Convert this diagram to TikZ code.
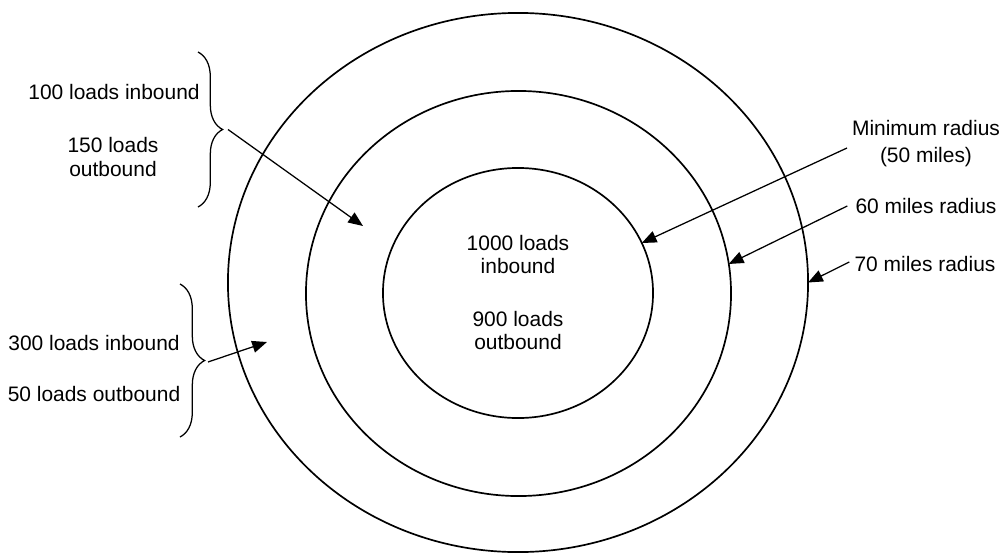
\documentclass[tikz,border=0pt]{standalone}
\usepackage{fontspec}
\setmainfont{Liberation Sans}
\usetikzlibrary{arrows.meta,decorations.pathreplacing,shapes.geometric}

\begin{document}
\begin{tikzpicture}[
  x=0.025cm,y=-0.025cm,
  lbl/.style={align=center,font=\fontsize{14.9}{17}\selectfont,inner sep=0pt},
  ring/.style={draw,ellipse,line width=1.2pt,inner sep=0pt,outer sep=0pt},
  arr/.style={-{Triangle[length=10.5pt,width=8.5pt]},line width=0.9pt},
  brc/.style={decorate,decoration={brace,amplitude=17.5pt},line width=0.9pt}
]
\useasboundingbox (0,0) rectangle (1008,553);
% rings
\node[ring,minimum width=14.5cm,minimum height=13.475cm] (outer) at (518,282.5) {};
\node[ring,minimum width=10.625cm,minimum height=10.125cm] (middle) at (518.5,293.5) {};
\node[ring,minimum width=6.75cm,minimum height=6.25cm] (inner) at (518,293) {};
\node[lbl] (core) at (518,292.5) {1000 loads\\inbound\\[20pt]900 loads\\outbound};
% left labels
\node[lbl] (inA) at (114,92) {100 loads inbound};
\node[lbl] (outA) at (113,157) {150 loads\\outbound};
\node[lbl] (inB) at (94,343) {300 loads inbound};
\node[lbl] (outB) at (94,394) {50 loads outbound};
\coordinate (braceAtop) at (198,52);
\coordinate (braceAbot) at (198,207);
\coordinate (braceBtop) at (180,284);
\coordinate (braceBbot) at (180,437);
\draw[brc] (braceAtop) -- (braceAbot);
\draw[brc] (braceBtop) -- (braceBbot);
\coordinate (tipA) at (228,129.5);
\coordinate (tipB) at (208,362);
\coordinate (ringA) at (363,226);
\coordinate (ringB) at (267,342);
\draw[arr] (tipA) -- (ringA);
\draw[arr] (tipB) -- (ringB);
% right labels
\node[lbl] (minrad) at (926,143.5) {Minimum radius\\[2pt](50 miles)};
\node[lbl] (sixty) at (926,206) {60 miles radius};
\node[lbl] (seventy) at (925,264) {70 miles radius};
\draw[arr] (847,148) coordinate (minstart) -- (inner.22.8);
\draw[arr] (sixty.west) ++(-8,0) coordinate (sixstart) -- (middle.8);
\draw[arr] (seventy.west) ++(-5,-2) coordinate (sevstart) -- (outer.-0.5);
\end{tikzpicture}
\end{document}
